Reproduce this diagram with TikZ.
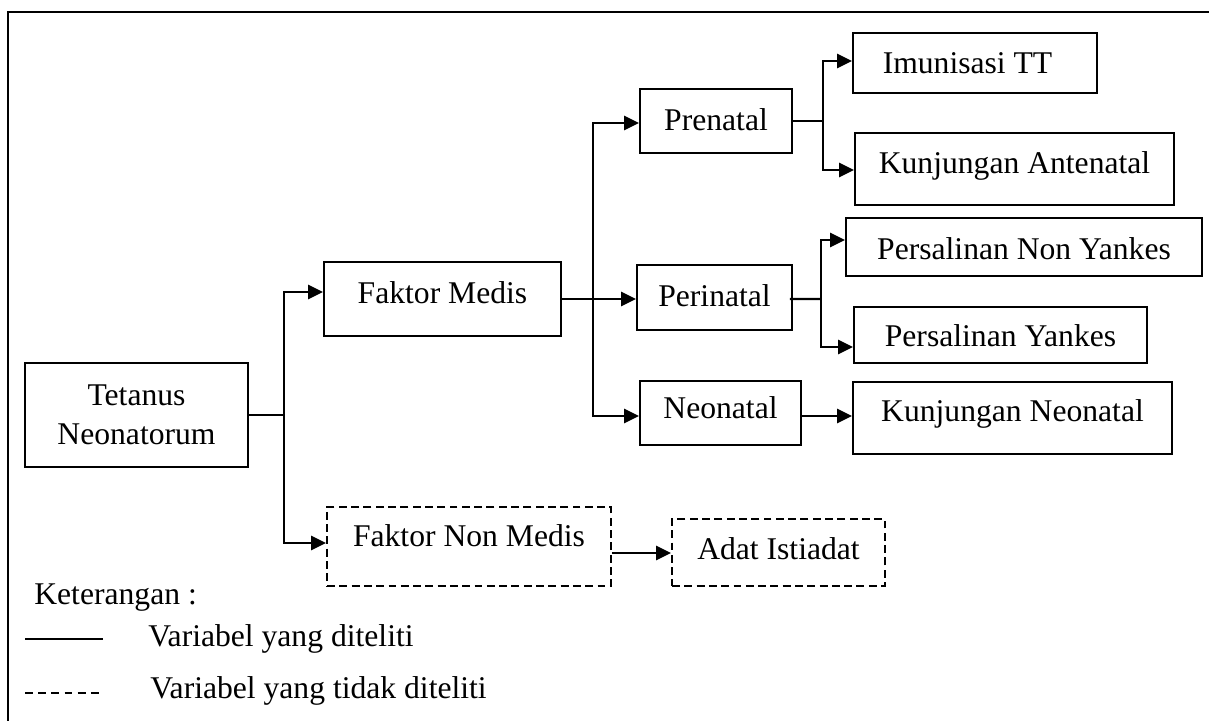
\documentclass[tikz,border=0pt]{standalone}
\usepackage{fontspec}
\setmainfont{Liberation Serif}
\usepackage{tikz}
\usetikzlibrary{calc}
\usetikzlibrary{arrows.meta}

\newlength\pxu
\setlength\pxu{0.02cm}

\tikzset{
  frame/.style={draw,line width=1.1pt,inner sep=0pt,align=center},
  box/.style={frame,text height=15pt,text depth=#1},
  box/.default=6pt,
  dashbox/.style={box=#1,dash pattern=on 4.5pt off 2.5pt},
  dashbox/.default=6pt,
  link/.style={line width=1.3pt}
}

\begin{document}
\begin{tikzpicture}[>={Triangle[length=8.5pt,width=8pt]},x=0.02cm,y=-0.02cm,
    font=\fontsize{18}{22}\selectfont]
          \useasboundingbox (0,0) rectangle (1209,720);
          \draw[line width=1.1pt] (8,730) -- (8,12) -- (1220,12);

          % boxes
          \node[frame,minimum width=223\pxu,minimum height=104\pxu] (tet) at (136.5,415) {Tetanus\\Neonatorum};
          \node[box=10.1pt,minimum width=237\pxu,minimum height=74\pxu] (medis) at (442.5,299) {Faktor Medis};
          \node[dashbox=15pt,minimum width=284\pxu,minimum height=79\pxu] (nonmedis) at (469,546.5) {Faktor Non Medis};
          \node[box=4.5pt,minimum width=152\pxu,minimum height=64\pxu] (pre) at (716,121) {Prenatal};
          \node[box=5pt,minimum width=155\pxu,minimum height=65\pxu] (peri) at (714.5,297.5) {Perinatal};
          \node[box=8.2pt,minimum width=161\pxu,minimum height=64\pxu] (neo) at (720.5,413) {Neonatal};
          \node[box=3.3pt,minimum width=244\pxu,minimum height=60\pxu] (imun) at (975,63) {Imunisasi TT\hspace{15\pxu}};
          \node[box=10.1pt,minimum width=319\pxu,minimum height=72\pxu] (anc) at (1014.5,169) {Kunjungan Antenatal};
          \node[box=0.8pt,minimum width=356\pxu,minimum height=58\pxu] (pnon) at (1024,247) {Persalinan Non Yankes};
          \node[box=1.9pt,minimum width=293\pxu,minimum height=56\pxu] (pyan) at (1000.5,335) {Persalinan Yankes};
          \node[box=11pt,minimum width=319\pxu,minimum height=72\pxu] (kneo) at (1012.5,418) {Kunjungan Neonatal};
          \node[dashbox=7pt,minimum width=213\pxu,minimum height=67\pxu] (adat) at (778.5,552.5) {Adat Istiadat};

          % branch points
          \coordinate (tj) at (284,415);
          \coordinate (mj) at (593,299);
          \coordinate (prj) at (823,121);
          \coordinate (perj) at (821,299);

          \draw[link] (tet.east) -- (tj);
          \draw[link,->] (tj) |- ([shift={(0,-7)}]medis.west);
          \draw[link,->] (tj) |- ([shift={(0,-3.5)}]nonmedis.west);

          \draw[link] (medis.east) -- (mj);
          \draw[link,->] (mj) |- ([shift={(0,2)}]pre.west);
          \draw[link,->] (mj) -- (mj -| peri.west);
          \draw[link,->] (mj) |- ([shift={(0,3)}]neo.west);

          \draw[link] (pre.east) -- (prj);
          \draw[link,->] (prj) |- ([shift={(0,-2)}]imun.west);
          \draw[link,->] (prj) |- ([shift={(0,1)}]anc.west);

          \draw[link] ([shift={(-3,1.5)}]peri.east) -- (perj);
          \draw[link,->] (perj) |- ([shift={(0,-7)}]pnon.west);
          \draw[link,->] (perj) |- ([shift={(0,12)}]pyan.west);

          \draw[link,->] ([shift={(0,3)}]neo.east) -- ([shift={(0,3)}]neo.east -| kneo.west);
          \draw[link,->] ([shift={(0,6.5)}]nonmedis.east) -- ([shift={(0,6.5)}]nonmedis.east -| adat.west);

          % legend
          \node[anchor=west,inner sep=0pt] (ket) at (34,598) {Keterangan :};
          \draw[line width=1pt] (25,639) -- (103,639);
          \node[anchor=west,inner sep=0pt] (solidtxt) at (148,639) {Variabel yang diteliti};
          \draw[line width=1pt,dash pattern=on 4.5pt off 3pt] (25,693) -- (103,693);
          \node[anchor=west,inner sep=0pt] (dashtxt) at (150,691) {Variabel yang tidak diteliti};
        \end{tikzpicture}
\end{document}
